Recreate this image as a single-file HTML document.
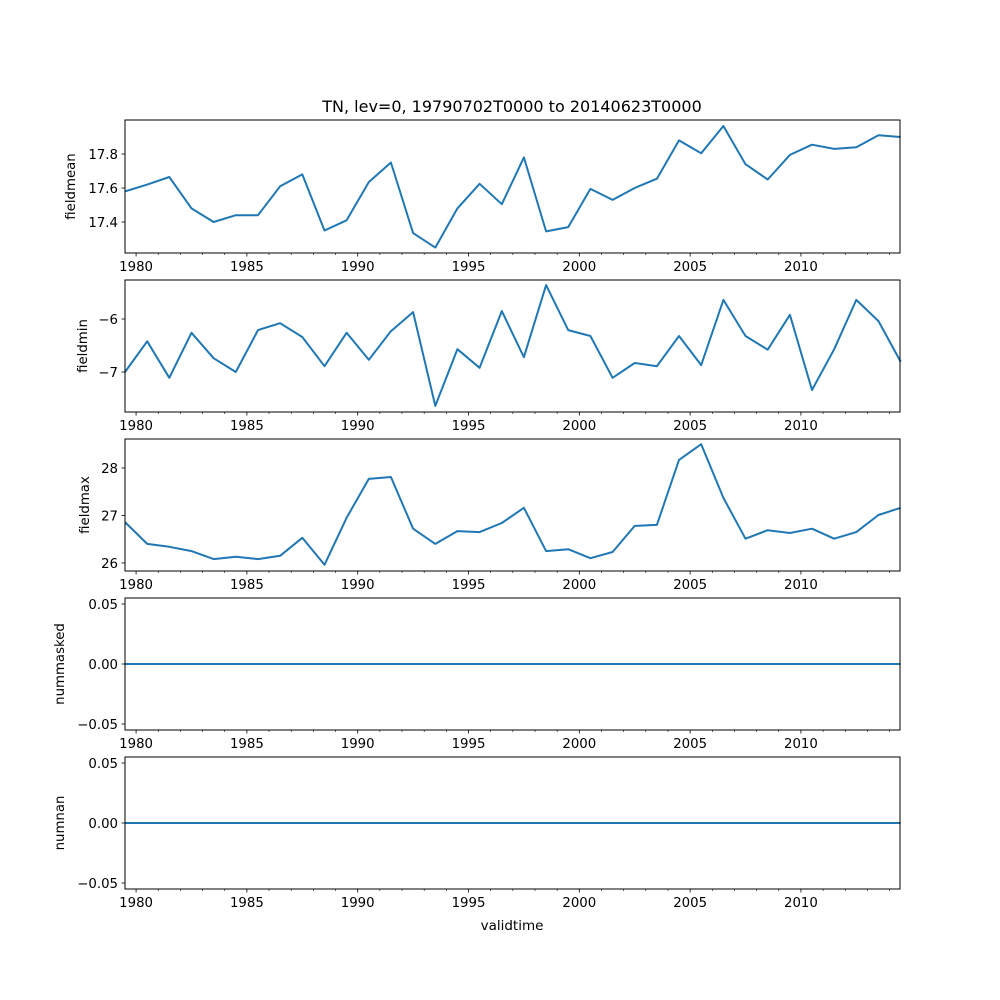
<!DOCTYPE html>
<html><head><meta charset="utf-8"><style>
body{margin:0;background:#fff}
svg{display:block;font-family:"DejaVu Sans","Liberation Sans",sans-serif}
</style></head><body>
<svg id="fig" width="1000" height="1000" xmlns="http://www.w3.org/2000/svg">
<rect width="1000" height="1000" fill="#fff"/>
<text x="512" y="112" font-size="16" text-anchor="middle">TN, lev=0, 19790702T0000 to 20140623T0000</text>
<text x="512" y="930" font-size="13.5" text-anchor="middle">validtime</text>
</svg>
<script>
const startYear = 1979.5;
const fieldmean = [17.58,17.62,17.665,17.48,17.40,17.44,17.44,17.61,17.68,17.35,17.41,17.635,17.75,17.335,17.25,17.48,17.625,17.505,17.78,17.345,17.37,17.595,17.53,17.6,17.655,17.88,17.805,17.965,17.74,17.65,17.795,17.855,17.83,17.84,17.91,17.90];
const fieldmin = [-7.0,-6.42,-7.11,-6.26,-6.74,-7.0,-6.21,-6.08,-6.34,-6.89,-6.26,-6.77,-6.23,-5.87,-7.64,-6.57,-6.92,-5.85,-6.72,-5.36,-6.21,-6.32,-7.11,-6.83,-6.89,-6.32,-6.87,-5.64,-6.32,-6.58,-5.92,-7.34,-6.57,-5.64,-6.04,-6.81];
const fieldmax = [26.86,26.40,26.34,26.25,26.08,26.13,26.08,26.15,26.53,25.96,26.95,27.77,27.81,26.72,26.40,26.67,26.65,26.84,27.16,26.25,26.29,26.10,26.23,26.78,26.80,28.17,28.50,27.37,26.51,26.69,26.63,26.72,26.51,26.65,27.01,27.16];
const nummasked = new Array(36).fill(0);
const numnan = new Array(36).fill(0);
const xTickLabels = [1980,1985,1990,1995,2000,2005,2010];
const meanTicks = ["17.4","17.6","17.8"];
const minTicks = ["-7","-6"];
const maxTicks = ["26","27","28"];
const zeroTicks = ["-0.05","0.00","0.05"];

const svg = document.getElementById('fig');
const NS = 'http://www.w3.org/2000/svg';
const L = 125, R = 900;
const t0 = 1979.5, t1 = 2014.47;
function xs(t){ return L + (t - t0) * (R - L) / (t1 - t0); }
function mk(tag, attrs, parent){ const e = document.createElementNS(NS, tag); for (const k in attrs) e.setAttribute(k, attrs[k]); (parent||svg).appendChild(e); return e; }

const panels = [
  {name:'fieldmean', data:fieldmean, top:120, bot:253, lo:17.218, hi:18.0, ticks:meanTicks, lx:75},
  {name:'fieldmin', data:fieldmin, top:280, bot:412, lo:-7.755, hi:-5.264, ticks:minTicks, lx:87},
  {name:'fieldmax', data:fieldmax, top:439, bot:571, lo:25.83, hi:28.61, ticks:maxTicks, lx:89},
  {name:'nummasked', data:nummasked, top:598, bot:730, lo:-0.055, hi:0.055, ticks:zeroTicks, lx:64},
  {name:'numnan', data:numnan, top:757, bot:889, lo:-0.055, hi:0.055, ticks:zeroTicks, lx:64}
];

panels.forEach(p => {
  const g = mk('g', {});
  
  
  const ys = v => p.bot - (v - p.lo) * (p.bot - p.top) / (p.hi - p.lo);
  const pts = p.data.map((v,i) => xs(startYear + i).toFixed(1) + ',' + ys(v).toFixed(1)).join(' ');
  const line = mk('polyline', {points:pts, fill:'none', stroke:'#1f77b4', 'stroke-width':2, 'stroke-linejoin':'round'}, g);
  
  
  const fr = mk('rect', {x:L, y:p.top, width:R-L, height:p.bot-p.top, fill:'none', stroke:'#000', 'stroke-width':1}, g);
  
  
  p.ticks.forEach(s => {
    const y = ys(parseFloat(s));
    mk('line', {x1:L-3.5, x2:L, y1:y, y2:y, stroke:'#000', 'stroke-width':0.8}, g);
    const t = mk('text', {x:L-7, y:y+5, 'font-size':13.3, 'text-anchor':'end'}, g);
    t.textContent = s.replace('-', '\u2212');
    
    
  });
  for (let yr = 1980; yr <= 2014; yr++) {
    const x = xs(yr);
    const major = xTickLabels.includes(yr);
    mk('line', {x1:x, x2:x, y1:p.bot, y2:p.bot + (major?3.5:2), stroke:'#000', 'stroke-width':major?0.8:0.6}, g);
  }
  xTickLabels.forEach(yr => {
    const t = mk('text', {x:xs(yr), y:p.bot+18, 'font-size':13.3, 'text-anchor':'middle'}, g);
    t.textContent = yr;
    
    
  });
  const lx = p.lx;
  const cy = (p.top + p.bot)/2;
  const yl = mk('text', {x:lx, y:cy, 'font-size':13.3, 'text-anchor':'middle', transform:`rotate(-90 ${lx} ${cy})`}, g);
  yl.textContent = p.name;
  
  
});
</script>
</body></html>
